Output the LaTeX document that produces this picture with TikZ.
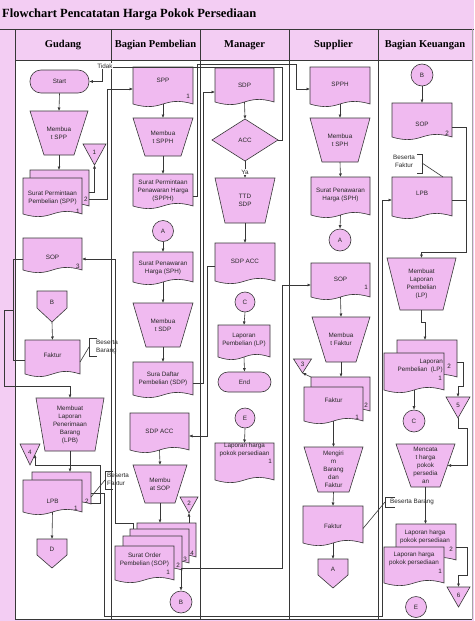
\documentclass[tikz,border=0pt]{standalone}
\usepackage{fontspec}
\setmainfont{Liberation Sans}
\newfontfamily\hdrfont{Liberation Serif}
\usetikzlibrary{calc,arrows.meta}
\pgfdeclarelayer{bg}
\pgfsetlayers{bg,main}
\definecolor{hdrpink}{RGB}{243,205,243}
\definecolor{shpink}{RGB}{240,186,240}
\definecolor{lncol}{RGB}{55,55,55}
\tikzset{
  shp/.style={draw=lncol, fill=shpink, line width=0.6pt},
  txt/.style={font=\fontsize{6.3}{8}\selectfont, align=center, inner sep=0pt, text=black!85},
  num/.style={font=\fontsize{6.3}{7}\selectfont, inner sep=0pt, text=black!85},
  box/.style={inner sep=0pt, outer sep=0pt},
  arr/.style={draw=lncol, line width=0.6pt, -{Latex[length=3.5pt,width=3pt]}},
  lnk/.style={draw=lncol, line width=0.6pt},
  hdr/.style={font=\hdrfont\bfseries\fontsize{10.5}{12}\selectfont, inner sep=0pt},
}
\newcommand\DocPath[3]{%
  \draw[shp] ($(#1.north west)+(#2,#3)$) -- ($(#1.north east)+(#2,#3)$) -- ($(#1.south east)+(#2,#3)$)
    .. controls ($(#1.south)+(#2,#3)+(0,-9)$) and ($(#1.south)+(#2,#3)+(0,9)$) .. ($(#1.south west)+(#2,#3)$) -- cycle;}
\newcommand\DocN[7]{%
  \node[box, minimum width=#4pt, minimum height=#5pt] (#1) at (#2,#3) {};
  \begin{pgfonlayer}{bg}\DocPath{#1}{0}{0}\end{pgfonlayer}
  \node[txt] (#1-t) at ($(#1.center)+(0,#7)$) {#6};}
\newcommand\StackN[8]{%
  \node[box, minimum width=#4pt, minimum height=#5pt] (#1) at (#2,#3) {};
  \begin{pgfonlayer}{bg}
    \foreach \dx/\dy in {#8} {\DocPath{#1}{\dx}{\dy}}
    \DocPath{#1}{0}{0}
  \end{pgfonlayer}
  \node[txt] (#1-t) at ($(#1.center)+(0,#7)$) {#6};}
\newcommand\TrapN[7]{%
  \node[box, minimum width=#4pt, minimum height=#5pt] (#1) at (#2,#3) {};
  \begin{pgfonlayer}{bg}\draw[shp] (#1.north west) -- (#1.north east) -- ($(#1.south east)+(-#6,0)$) -- ($(#1.south west)+(#6,0)$) -- cycle;\end{pgfonlayer}
  \node[txt] (#1-t) at (#1.center) {#7};}
\newcommand\OffN[6]{%
  \node[box, minimum width=#4pt, minimum height=#5pt] (#1) at (#2,#3) {};
  \begin{pgfonlayer}{bg}\draw[shp] (#1.north west) -- (#1.north east) -- ($(#1.north east)!0.55!(#1.south east)$) -- (#1.south) -- ($(#1.north west)!0.55!(#1.south west)$) -- cycle;\end{pgfonlayer}
  \node[txt] (#1-t) at ($(#1.center)+(0,-4)$) {#6};}
\newcommand\TriN[6]{%
  \node[box, minimum width=#4pt, minimum height=#5pt] (#1) at (#2,#3) {};
  \begin{pgfonlayer}{bg}\draw[shp] (#1.north west) -- (#1.north east) -- (#1.south) -- cycle;\end{pgfonlayer}
  \node[num] (#1-t) at ($(#1.center)+(0,-2)$) {#6};}
\begin{document}
\begin{tikzpicture}[x=1pt,y=-1pt]
\useasboundingbox (0,0) rectangle (474,621);
% ---------- frame ----------
\begin{pgfonlayer}{bg}
\fill[hdrpink] (0,0) rectangle (474,621);
\fill[white] (15,60) rectangle (472,619);
\draw[lnk] (0,29) -- (474,29);
\draw[lnk] (15,29) -- (15,619) -- (472,619);
\draw[lnk] (15,60) -- (472,60);
\foreach \xx in {111,200,289,378} {\draw[lnk] (\xx,29) -- (\xx,619);}
\draw[black!35, line width=0.8pt] (472,29) -- (472,619);
\end{pgfonlayer}
\node[anchor=west, font=\hdrfont\bfseries\fontsize{12.5}{14}\selectfont, inner sep=0pt] (title) at (2,15) {Flowchart Pencatatan Harga Pokok Persediaan};
\node[hdr] (h1) at (63,45) {Gudang};
\node[hdr] (h2) at (155.5,45) {Bagian Pembelian};
\node[hdr] (h3) at (244.5,45) {Manager};
\node[hdr] (h4) at (333.5,45) {Supplier};
\node[hdr] (h5) at (425,45) {Bagian Keuangan};

% ---------- Gudang ----------
\node[shp, txt, rounded corners=11pt, minimum width=59pt, minimum height=23pt] (start) at (59.5,81.5) {Start};
\TrapN{mspp}{59}{133}{58}{44}{14}{Membua\\t SPP}
\StackN{sppG}{52.5}{196}{59}{36}{Surat Permintaan\\Pembelian (SPP)}{2}{7/-8}
\TriN{tri1}{94.5}{154.5}{23}{21}{1}
\DocN{sopG}{52.5}{254}{59}{32}{SOP}{3}
\OffN{offB}{52}{306.5}{30}{31}{B}
\DocN{fakG}{52.5}{357}{55}{34}{Faktur}{-2}
\TrapN{mlpb}{70}{424.5}{68}{53}{9}{Membuat\\Laporan\\Penerimaan\\Barang\\(LPB)}
\TriN{tri4}{30}{454.5}{20}{21}{4}
\StackN{lpbG}{52.5}{496}{59}{32}{LPB}{5}{9/-8}
\OffN{offD}{52}{553.5}{30}{29}{D}
\node[num] (nG1) at (86,199) {2};
\node[num] (nG2) at (78,211) {1};
\node[num] (nG3) at (78,266) {3};
\node[num] (nG4) at (87,501) {2};
\node[num] (nG5) at (76,508) {1};

% ---------- Bagian Pembelian ----------
\DocN{sppP}{163}{85.5}{60}{37}{SPP}{-5}
\TrapN{mspph}{163}{137}{60}{38}{12}{Membua\\t SPPH}
\DocN{spph}{163}{190}{60}{32}{Surat Permintaan\\Penawaran Harga\\(SPPH)}{1}
\node[shp, txt, circle, minimum size=21pt] (cA1) at (163,231) {A};
\DocN{sph}{163}{267}{60}{30}{Surat Penawaran\\Harga (SPH)}{1}
\TrapN{msdp}{163}{325}{60}{44}{13}{Membua\\t SDP}
\DocN{sdpP}{163}{378.5}{60}{33}{Sura Daftar\\Pembelian (SDP)}{0}
\DocN{sdpaccP}{159.5}{431.5}{59}{37}{SDP ACC}{0}
\TrapN{msop}{160}{484}{54}{38}{12}{Membu\\at SOP}
\StackN{sopP}{144.5}{563}{59}{34}{Surat Order\\Pembelian (SOP)}{-3}{22/-23,15/-17,8/-10}
\TriN{tri2}{189}{505}{18}{16}{2}
\node[shp, txt, circle, minimum size=22pt] (cB1) at (181,602) {B};
\node[num] (nP1) at (188,96) {1};
\node[num] (nP2) at (192,553) {4};
\node[num] (nP3) at (185,559) {3};
\node[num] (nP4) at (178,565) {2};
\node[num] (nP5) at (168,572) {1};

% ---------- Manager ----------
\DocN{sdpM}{244.5}{85}{59}{34}{SDP}{0}
\node[box, minimum width=66pt, minimum height=42pt] (acc) at (245,140) {};
\begin{pgfonlayer}{bg}\draw[shp] (acc.north) -- (acc.east) -- (acc.south) -- (acc.west) -- cycle;\end{pgfonlayer}
\node[txt] (acc-t) at (acc.center) {ACC};
\TrapN{ttd}{245}{200.5}{60}{45}{10}{TTD\\SDP}
\DocN{sdpaccM}{245}{262}{60}{38}{SDP ACC}{-1}
\node[shp, txt, circle, minimum size=20pt] (cC1) at (245,302) {C};
\DocN{lpM}{244}{341}{52}{32}{Laporan\\Pembelian (LP)}{-1.5}
\node[shp, txt, rounded corners=10pt, minimum width=53pt, minimum height=20pt] (endT) at (244.5,382) {End};
\node[shp, txt, circle, minimum size=20pt] (cE1) at (245,418) {E};
\DocN{lhpM}{244.5}{461.5}{59}{37}{Laporan harga\\pokok persediaan}{-12}
\node[num] (nM1) at (270,461) {1};

% ---------- Supplier ----------
\DocN{spphS}{340}{85.5}{60}{37}{SPPH}{-1.5}
\TrapN{msph}{340}{140}{60}{44}{12}{Membua\\t SPH}
\DocN{sphS}{340.5}{196}{59}{38}{Surat Penawaran\\Harga (SPH)}{-1}
\node[shp, txt, circle, minimum size=22pt] (cA2) at (340,240) {A};
\DocN{sopS}{340.5}{280}{59}{34}{SOP}{-1}
\TrapN{mfak}{341}{339.5}{58}{45}{14}{Membua\\t Faktur}
\StackN{fakS}{333.5}{404}{59}{34}{Faktur}{-4}{7/-10}
\TriN{tri3}{302.5}{366}{18}{14}{3}
\TrapN{mkirim}{333.5}{469.5}{59}{45}{14}{Mengiri\\m\\Barang\\dan\\Faktur}
\DocN{fakS2}{333}{524.5}{60}{37}{Faktur}{1.5}
\OffN{offA}{333}{573.5}{30}{29}{A}
\node[num] (nS1) at (366,287) {1};
\node[num] (nS2) at (366,405) {2};
\node[num] (nS3) at (357,417) {1};

% ---------- Bagian Keuangan ----------
\node[shp, txt, circle, minimum size=22pt] (cB2) at (422,75) {B};
\DocN{sopK}{422}{120}{60}{34}{SOP}{4}
\DocN{lpbK}{422}{196.5}{60}{39}{LPB}{-3.5}
\TrapN{mlp}{421.5}{284}{69}{52}{13}{Membuat\\Laporan\\Pembelian\\(LP)}
\StackN{lpK}{414}{371.5}{60}{37}{}{0}{13/-13}
\node[txt, align=right, anchor=east] (lpK-t2) at (443,366) {Laporan\\Pembelian\ \ (LP)};
\node[shp, txt, circle, minimum size=22pt] (cC2) at (414,421) {C};
\TriN{tri5}{458}{407.5}{24}{21}{5}
\TrapN{mcat}{425.5}{465.5}{59}{43}{15}{Mencata\\t harga\\pokok\\persedia\\an}
\StackN{lhpK}{414}{565}{60}{36}{Laporan harga\\pokok persediaan}{-6}{12/-23}
\node[txt] (lhpK-t2) at (425,537) {Laporan harga\\pokok persediaan};
\TriN{tri6}{458.5}{597}{23}{20}{6}
\node[shp, txt, circle, minimum size=21pt] (cE2) at (416,607) {E};
\node[num] (nK1) at (447,133) {2};
\node[num] (nK2) at (449,366) {2};
\node[num] (nK3) at (440,378) {1};
\node[num] (nK4) at (451,549) {2};
\node[num] (nK5) at (440,571) {1};

% ---------- annotations ----------
\draw[lnk] (97,338) -- (89,338) -- (89,356) -- (97,356);
\draw[lnk] ($(fakG.east)+(0,5)$) -- (89,347);
\node[txt, align=left, anchor=west] (annG1) at (96,347) {Beserta\\Barang};
\draw[lnk] (113,471) -- (105,471) -- (105,489) -- (113,489);
\draw[lnk] (105,480) -- (91,497);
\node[txt, align=left, anchor=west] (annG2) at (107,479) {Beserta\\Faktur};
\draw[lnk] (417,154) -- (422,154) -- (422,173) -- (417,173);
\draw[lnk] (422,163) -- (443,177);
\node[txt] (annK1) at (404,161) {Beserta\\Faktur};
\draw[lnk] (395,497) -- (385,497) -- (385,507) -- (395,507);
\draw[lnk] ($(fakS2.east)+(0,4)$) -- (385,502);
\node[txt, anchor=west] (annK2) at (390,502) {Beserta Barang};

% ---------- connectors: Gudang ----------
\draw[arr] (start.south) -- (mspp.north);
\coordinate (sppGb) at ($(sppG.north)+(7,-8)$);
\draw[arr] (mspp.south) -- (mspp.south |- sppGb);
\coordinate (g1) at (89,192);
\draw[arr] (g1) -| (tri1.south);
\coordinate (g2) at (89,199);
\draw[arr] (g2) -- (107,199) |- ($(sppP.west)+(0,3.5)$);
\draw[lnk] ($(sopG.west)+(0,5)$) -- (13,259) -- (13,360) -- ($(fakG.west)+(0,3)$);
\draw[arr] (13,310) -- (4,310) -- (4,386) -| (mlpb.north);
\draw[arr] (offB.south) -- (fakG.north);
\coordinate (lpbGb) at ($(lpbG.north)+(9,-8)$);
\draw[arr] (mlpb.south) -- (mlpb.south |- lpbGb);
\coordinate (g3) at (91,503);
\coordinate (t4e) at ($(tri4.north east)!0.5!(tri4.south)$);
\draw[arr] (g3) -- (100,503) -- (100,465) -| (t4e);
\draw[arr] (lpbG.south) -- (offD.north);
\coordinate (g4) at (91,493);
\draw[arr] (g4) -- (104,493) -- (104,616) -- (382,616) |- ($(lpbK.west)+(0,3.5)$);

% Tidak
\draw[arr] (acc.east) -- (282,140) -- (282,67) -- (102,67) |- (start.east);
\node[txt, fill=white, inner sep=0.6pt] (tidak) at (105,66) {Tidak};

% ---------- connectors: Pembelian ----------
\draw[arr] (sppP.south) -- (mspph.north);
\draw[arr] (mspph.south) -- (spph.north);
\draw[arr] ($(spph.east)+(0,6)$) -- (197,196) -- (197,64) -- (296,64) |- ($(spphS.west)+(0,3.5)$);
\draw[arr] (cA1.south) -- (sph.north);
\draw[arr] (sph.south) -- (msdp.north);
\draw[arr] (msdp.south) -- (sdpP.north);
\draw[arr] ($(sdpP.east)+(0,4.5)$) -- (203,383) |- ($(sdpM.west)+(0,7)$);
\draw[arr] (sdpaccP.south) -- (msop.north);
\coordinate (sop4top) at ($(sopP.north)+(22,-23)$);
\draw[arr] (msop.south) -- (msop.south |- sop4top);
\draw[arr] (tri2.south |- sop4top) -- (tri2.south);
\coordinate (s3) at (133,529);
\draw[arr] (s3) -- (133,523) -- (115,523) |- ($(sopG.east)+(0,5)$);
\coordinate (s2) at (182,568);
\draw[arr] (s2) -- (282,568) |- ($(sopS.west)+(0,5)$);
\draw[arr] (181,568) -- (cB1.north);

% ---------- connectors: Manager ----------
\draw[arr] (sdpM.south) -- (acc.north);
\draw[arr] (acc.south) -- (ttd.north);
\node[txt, fill=white, inner sep=0.6pt] (ya) at (245,172) {Ya};
\draw[arr] (ttd.south) -- (sdpaccM.north);
\draw[arr] ($(sdpaccM.west)+(0,4)$) -- (207,266) |- ($(sdpaccP.east)+(0,4.5)$);
\draw[arr] (cC1.south) -- (lpM.north);
\draw[arr] (lpM.south) -- (endT.north);
\draw[arr] (cE1.south) -- (lhpM.north);

% ---------- connectors: Supplier ----------
\draw[arr] (spphS.south) -- (msph.north);
\draw[arr] (msph.south) -- (sphS.north);
\draw[arr] (sphS.south) -- (cA2.north);
\draw[arr] (sopS.south) -- (mfak.north);
\coordinate (fakSb) at ($(fakS.north)+(7,-10)$);
\draw[arr] (mfak.south) -- (mfak.south |- fakSb);
\draw[arr] ($(fakS.north west)+(7,-10)$) -- (tri3.south);
\draw[arr] (fakS.south) -- (mkirim.north);
\draw[arr] (mkirim.south) -- (fakS2.north);
\draw[arr] (fakS2.south) -- (offA.north);

% ---------- connectors: Keuangan ----------
\draw[arr] (cB2.south) -- (sopK.north);
\draw[arr] ($(sopK.east)+(0,7)$) -- (466,127) -- (466,252) -| (mlp.north);
\draw[lnk] ($(lpbK.east)+(0,3.5)$) -- (466,200);
\draw[arr] (mlp.south) -- ++(0,12) -| ($(lpK.north)+(11,-13)$);
\draw[arr] (lpK.south) -- (cC2.north);
\draw[arr] ($(lpK.east)+(13,-9)$) -- (463,362.5) -- (463,386) -| (tri5.north);
\draw[arr] (tri5.south) -- ++(0,10) -| (467,465.5) -- ($(mcat.east)+(-7.5,0)$);
\coordinate (lhpKb) at ($(lhpK.north)+(12,-23)$);
\draw[arr] (mcat.south) -- (mcat.south |- lhpKb);
\draw[arr] ($(lhpK.east)+(12,-18)$) -- (467,547) -- (467,575) -| (tri6.north);
\end{tikzpicture}
\end{document}
